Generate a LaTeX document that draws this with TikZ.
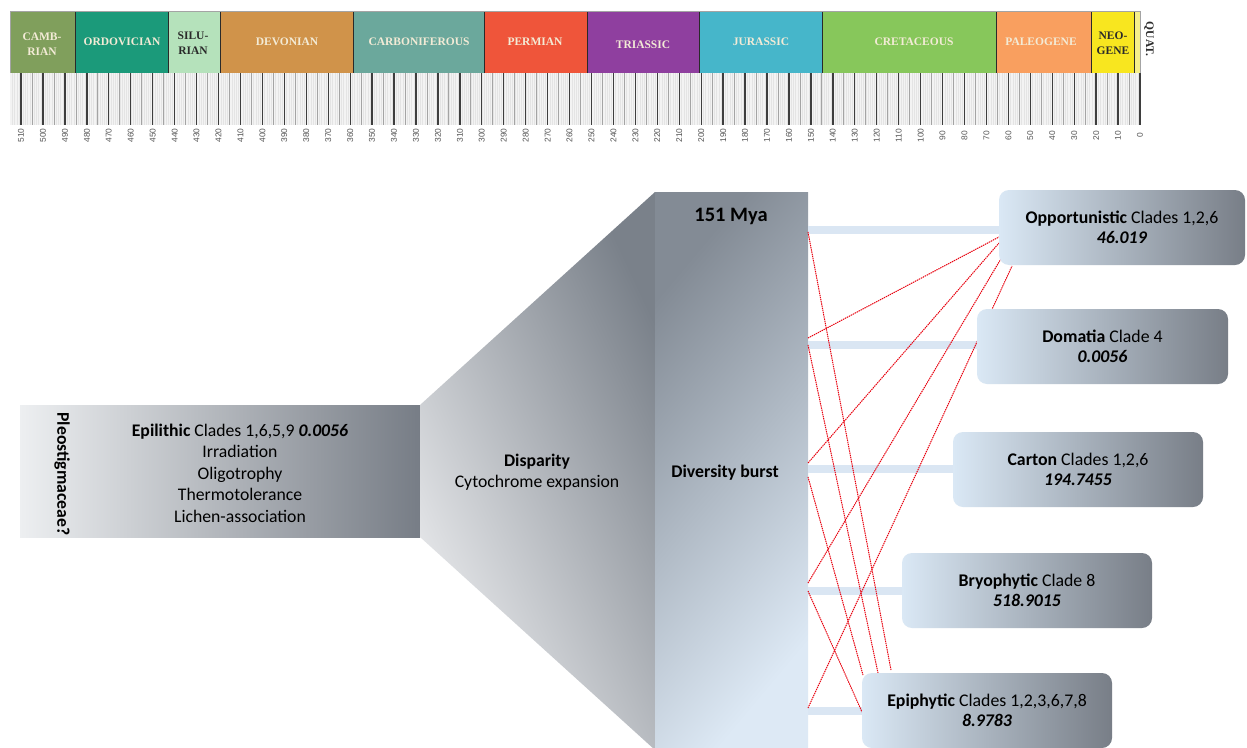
\documentclass[tikz,border=0pt]{standalone}
\usepackage{fontspec}
\setmainfont{Carlito}
\newfontfamily\tlfont{Liberation Serif}
\newfontfamily\numfont{Liberation Sans}
\definecolor{cCam}{HTML}{809F5C}
\definecolor{cOrd}{HTML}{1B9A7A}
\definecolor{cSil}{HTML}{B5E2BB}
\definecolor{cDev}{HTML}{D0934A}
\definecolor{cCar}{HTML}{6BA89C}
\definecolor{cPer}{HTML}{EF553A}
\definecolor{cTri}{HTML}{8F3F9F}
\definecolor{cJur}{HTML}{46B6CA}
\definecolor{cCre}{HTML}{87C75B}
\definecolor{cPal}{HTML}{F99F5F}
\definecolor{cNeo}{HTML}{F8E61F}
\definecolor{cQua}{HTML}{F6EF8A}
\definecolor{lighttxt}{HTML}{F3EBD6}
\definecolor{darktxt}{HTML}{2A2A2A}
\definecolor{tickbg}{HTML}{F3F3F3}
\definecolor{tickfaint}{HTML}{E4E4E4}
\definecolor{tickmid}{HTML}{A4A4A4}
\definecolor{tickmaj}{HTML}{3E3E3E}
\definecolor{tickgray}{HTML}{555555}
\definecolor{epiL}{HTML}{EDEFF1}
\definecolor{epiR}{HTML}{777D86}
\definecolor{trapDark}{HTML}{7A818A}
\definecolor{trapLight}{HTML}{EDEEF0}
\definecolor{colDark}{HTML}{838B95}
\definecolor{colLight}{HTML}{DDE9F5}
\definecolor{boxL}{HTML}{DAE8F5}
\definecolor{boxR}{HTML}{787E87}
\definecolor{barblue}{HTML}{DAE6F3}
\definecolor{linkred}{HTML}{E8000E}
\tikzset{
  periodtxt/.style={font=\tlfont\bfseries\fontsize{11.5}{15}\selectfont, align=center, inner sep=0pt},
  ticklbl/.style={font=\numfont\fontsize{8.4}{8.4}\selectfont, text=tickgray, rotate=90, inner sep=0pt},
  mainfont/.style={font=\fontsize{17.7}{21.5}\selectfont},
  boxnode/.style={rounded corners=10pt, left color=boxL, right color=boxR, minimum height=75pt, align=center, inner sep=0pt, font=\fontsize{17.8}{20.5}\selectfont},
  bar/.style={draw=barblue, line width=8pt},
  redlink/.style={draw=linkred, line width=1pt, dash pattern=on 1.4pt off 0.8pt},
  boundary/.style={draw=darktxt, line width=0.9pt}
}
\begin{document}
\begin{tikzpicture}[x=1pt,y=-1pt]
\useasboundingbox (0,0) rectangle (1247,747);
\fill[white] (0,0) rectangle (1247,747);
% ---- timeline: period band
\foreach \a/\b/\c in {10/75/cCam,75/168/cOrd,168/220/cSil,220/353/cDev,353/484/cCar,484/587/cPer,587/699/cTri,699/822/cJur,822/996/cCre,996/1091/cPal,1091/1134/cNeo,1134/1140/cQua}
  {\fill[\c] (\a,11) rectangle (\b,73);}
\foreach \a in {75,168,220,353,484,587,699,822,996,1091,1134}
  {\draw[boundary] (\a,11) -- (\a,73);}
\draw[draw=tickmid, line width=0.6pt] (10,11) rectangle (1140,73);
% ---- tick area
\fill[tickbg] (10,73) rectangle (1140,125);
\foreach \t in {0,...,514}
  {\pgfmathsetmacro\xx{1140-2.194*\t}
   \draw[tickfaint, line width=0.3pt] (\xx,73) -- (\xx,125);}
\foreach \t in {5,15,...,505}
  {\pgfmathsetmacro\xx{1140-2.194*\t}
   \draw[tickmid, line width=0.8pt] (\xx,73) -- (\xx,125);}
\foreach \t in {0,10,...,510}
  {\pgfmathsetmacro\xx{1140-2.194*\t}
   \draw[tickmaj, line width=1.3pt] (\xx,73) -- (\xx,125);
   \node[ticklbl, name=tl\t] at (\xx,135.5) {\t};}
% ---- period labels
\foreach \x/\y/\tc/\lab [count=\i] in {
  42/44/lighttxt/{CAMB-\\RIAN},
  122/42/lighttxt/ORDOVICIAN,
  193/43/darktxt/{SILU-\\RIAN},
  287/42/lighttxt/DEVONIAN,
  419/42/lighttxt/CARBONIFEROUS,
  535/42/lighttxt/PERMIAN,
  643/45/lighttxt/TRIASSIC,
  761/42/lighttxt/JURASSIC,
  914/42/lighttxt/CRETACEOUS,
  1041/42/lighttxt/PALEOGENE,
  1113/43/darktxt/{NEO-\\GENE}}
  {\node[periodtxt, text=\tc, name=per\i] at (\x,\y) {\lab};}
\node[periodtxt, text=darktxt, rotate=-90, name=quat] at (1149,39) {QUAT.};
% ---- main flow shapes
\node[name=epil, minimum width=400pt, minimum height=132pt, inner sep=0pt, left color=epiL, right color=epiR] at (220,471) {};
\shade[top color=trapDark, bottom color=trapLight, shading angle=-65] (420,405) -- (655,192) -- (655,750) -- (420,537) -- cycle;
\node[name=col, minimum width=153pt, minimum height=558pt, inner sep=0pt, top color=colDark, bottom color=colLight, shading angle=50] at (731.5,471) {};
% ---- texts on shapes
\node[mainfont, align=center, name=epitxt] at (240,473) {\textbf{Epilithic} Clades 1,6,5,9 \textbf{\textit{0.0056}}\\Irradiation\\Oligotrophy\\Thermotolerance\\Lichen-association};
\node[mainfont, rotate=-90, name=pleo] at (62,474) {\textbf{Pleostigmaceae?}};
\node[mainfont, align=center, name=disp] at (537,472) {\textbf{Disparity}\\Cytochrome expansion};
\node[font=\bfseries\fontsize{20.5}{24}\selectfont, name=mya] at (731,216) {151 Mya};
\node[font=\bfseries\fontsize{17.8}{20}\selectfont, name=div] at (725,473) {Diversity burst};
% ---- named link ends
\coordinate (a1) at (808,232);
\coordinate (a2) at (808,338);
\coordinate (a3) at (808,345);
\coordinate (a4) at (808,463);
\coordinate (a5) at (808,477);
\coordinate (a6) at (808,583);
\coordinate (a7) at (808,591);
\coordinate (a8) at (808,708);
\coordinate (o1) at (999,237);
\coordinate (o2) at (999,243);
\coordinate (o3) at (1002,257);
\coordinate (o4) at (1012,266);
\coordinate (e1) at (863,675);
\coordinate (e2) at (878,673);
\coordinate (e3) at (891,670);
\coordinate (e4) at (862,712);
% ---- bars
\coordinate (b1) at (999,230);
\coordinate (b2) at (977,345);
\coordinate (b3) at (953,469);
\coordinate (b4) at (902,591);
\coordinate (b5) at (862,711);
\draw[bar] (col.east |- b1) -- (b1);
\draw[bar] (col.east |- b2) -- (b2);
\draw[bar] (col.east |- b3) -- (b3);
\draw[bar] (col.east |- b4) -- (b4);
\draw[bar] (col.east |- b5) -- (b5);
% ---- red links
\draw[redlink] (a1) -- (e3);
\draw[redlink] (a3) -- (e2);
\draw[redlink] (a5) -- (e1);
\draw[redlink] (a7) -- (e4);
\draw[redlink] (a2) -- (o1);
\draw[redlink] (a4) -- (o2);
\draw[redlink] (a6) -- (o3);
\draw[redlink] (a8) -- (o4);
% ---- boxes
\node[boxnode, minimum width=246pt, name=opp] at (1122,227.5) {\textbf{Opportunistic} Clades 1,2,6\\\textbf{\textit{46.019}}};
\node[boxnode, minimum width=251pt, name=dom] at (1102.5,346.5) {\textbf{Domatia} Clade 4\\\textbf{\textit{0.0056}}};
\node[boxnode, minimum width=250pt, name=car] at (1078,469.5) {\textbf{Carton} Clades 1,2,6\\\textbf{\textit{194.7455}}};
\node[boxnode, minimum width=250pt, name=bry] at (1027,590.5) {\textbf{Bryophytic} Clade 8\\\textbf{\textit{518.9015}}};
\node[boxnode, minimum width=250pt, name=epi] at (987,710.5) {\textbf{Epiphytic} Clades 1,2,3,6,7,8\\\textbf{\textit{8.9783}}};
\end{tikzpicture}
\end{document}
